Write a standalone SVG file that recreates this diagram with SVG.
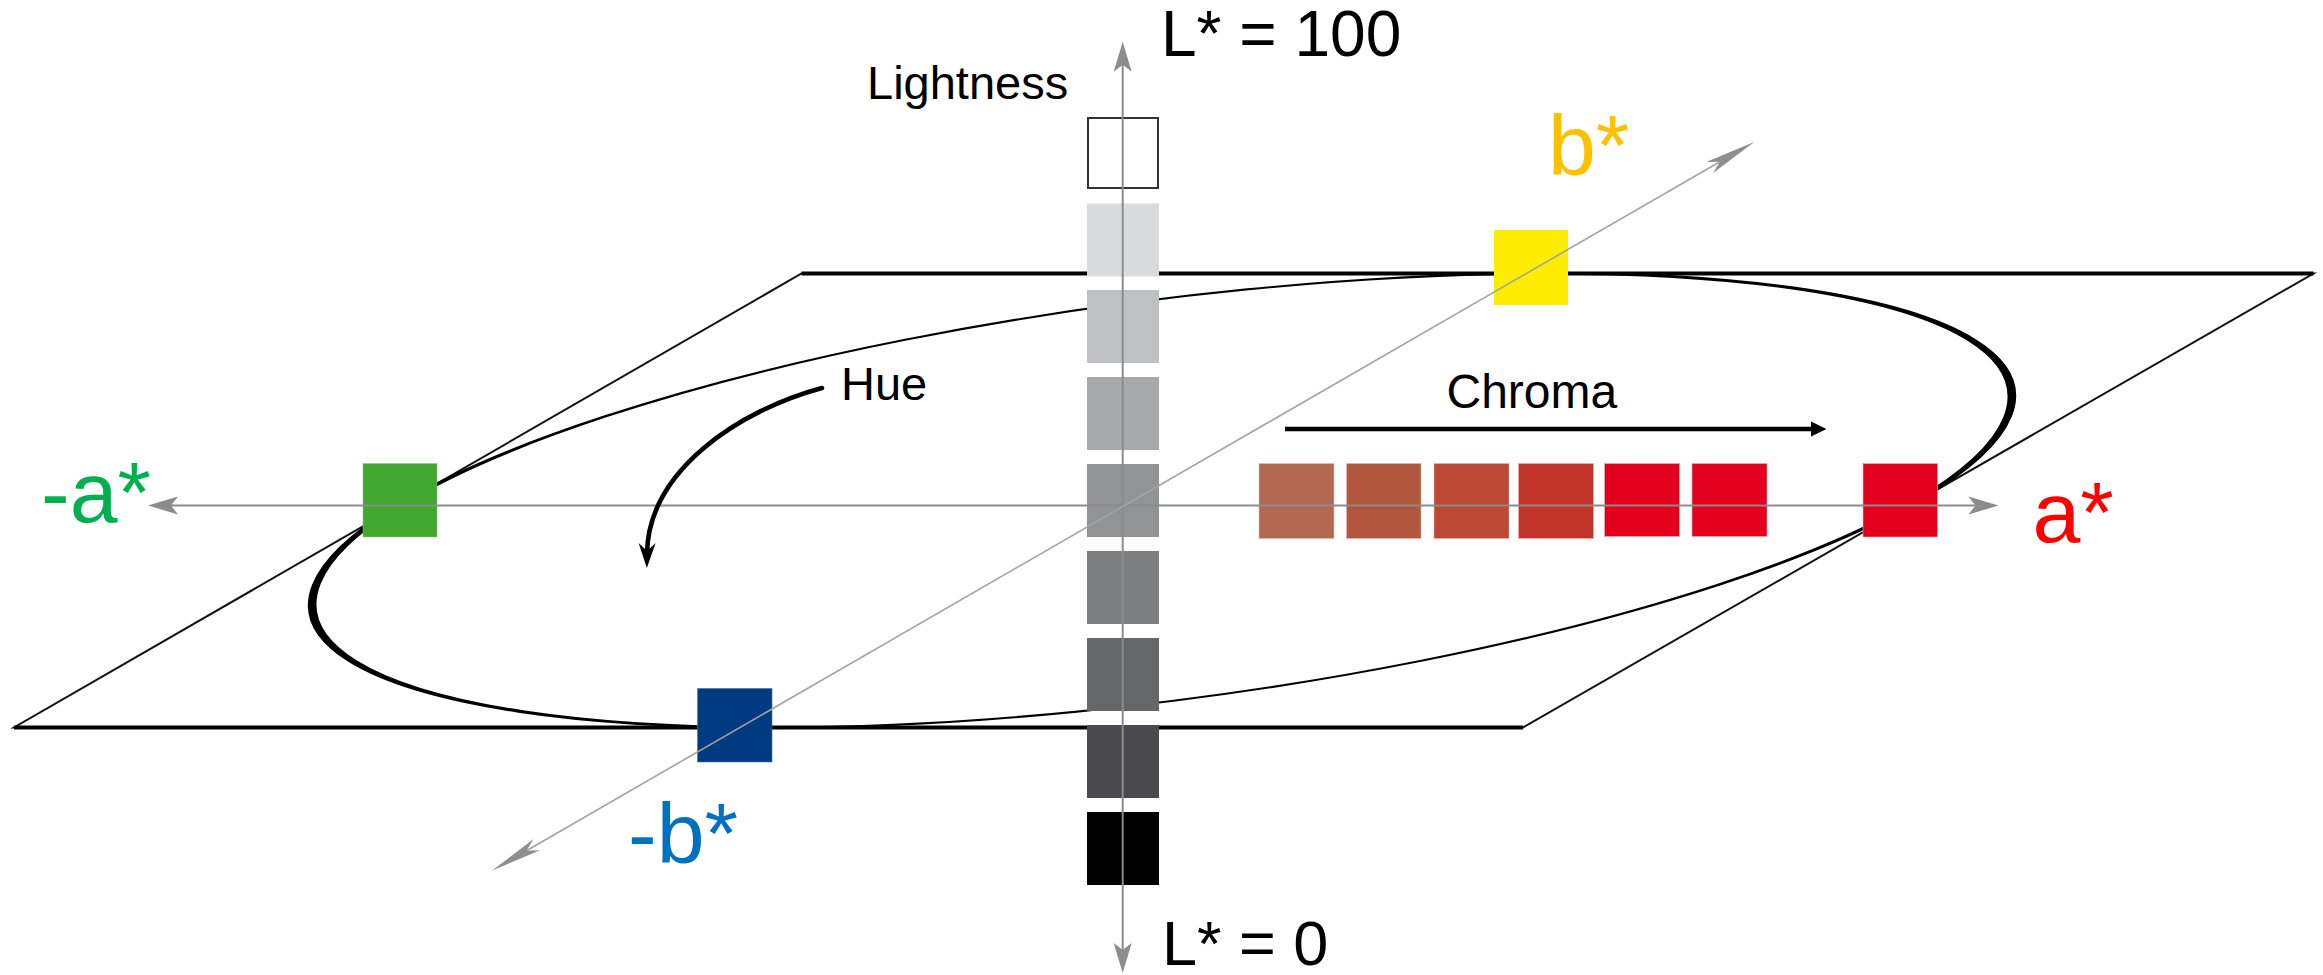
<svg xmlns="http://www.w3.org/2000/svg" width="2323" height="975" viewBox="0 0 2323 975">
<defs>
<style>
.lbl{font-family:"Liberation Sans",Arial,sans-serif;}
.plane-thick{stroke:#000;stroke-width:4;fill:none;}
.plane-thin{stroke:#111;stroke-width:2;fill:none;}
.axis{stroke:#8c8c8c;stroke-width:2;fill:none;}
.baxis{stroke:#a3a3a3;stroke-width:1.6;fill:none;}
.cbox{stroke:#f0b0b0;stroke-opacity:0.6;stroke-width:1;}
</style>
<marker id="axArrow" viewBox="-32 -10 34 20" refX="-22" refY="0" markerWidth="34" markerHeight="20" markerUnits="userSpaceOnUse" orient="auto-start-reverse">
<path d="M0,0 L-30,-9 L-23,0 L-30,9 Z" fill="#8c8c8c"/>
</marker>
<marker id="bArrow" viewBox="-54 -8 56 16" refX="-36" refY="0" markerWidth="56" markerHeight="16" markerUnits="userSpaceOnUse" orient="auto-start-reverse">
<path d="M0,0 L-52,-6.5 L-40,0 L-52,6.5 Z" fill="#8f8f8f"/>
</marker>
<marker id="hueArrow" viewBox="-27 -10 29 20" refX="-14" refY="0" markerWidth="29" markerHeight="20" markerUnits="userSpaceOnUse" orient="auto">
<path d="M0,0 L-25,-8.5 L-17,0 L-25,8.5 Z" fill="#000"/>
</marker>
</defs>
<rect width="2323" height="975" fill="#fff"/>

<g id="plane">
<polygon class="plane-thin" points="801.5,273.5 2313.5,273.5 1523,727.5 14,727.5"/>
<line class="plane-thick" x1="801.5" y1="273.5" x2="2313.5" y2="273.5"/>
<line class="plane-thick" x1="14" y1="727.5" x2="1523" y2="727.5"/>
</g>

<g id="hue-ellipse">
<circle cx="0" cy="0" r="1" fill="none" stroke="#000" stroke-width="0.0102" transform="matrix(755,0,390,-227,1162,500.5)"/>
</g>

<g id="lightness-scale">
<rect x="1088" y="118" width="70" height="70" fill="#fff" stroke="#333" stroke-width="2"/>
<rect x="1087" y="203.5" width="72" height="73" fill="#d9dadb"/>
<rect x="1087" y="290" width="72" height="73" fill="#bfc0c2"/>
<rect x="1087" y="377" width="72" height="73" fill="#a7a8aa"/>
<rect x="1087" y="464" width="72" height="73" fill="#929395"/>
<rect x="1087" y="551" width="72" height="73" fill="#7d7e80"/>
<rect x="1087" y="638" width="72" height="73" fill="#656668"/>
<rect x="1087" y="725" width="72" height="73" fill="#4a4a4c"/>
<rect x="1087" y="812" width="72" height="73" fill="#000"/>
</g>

<g id="chroma-scale">
<rect class="cbox" x="1259" y="463.5" width="75" height="75" fill="#b26850"/>
<rect class="cbox" x="1346.5" y="463.5" width="74.5" height="75" fill="#b1573d"/>
<rect class="cbox" x="1434" y="463.5" width="75" height="75" fill="#bb4934"/>
<rect class="cbox" x="1518.5" y="463.5" width="75" height="75" fill="#c2332a"/>
<rect class="cbox" x="1604.5" y="463.5" width="75" height="73" fill="#e2001e"/>
<rect class="cbox" x="1692" y="463.5" width="75" height="73" fill="#e2001e"/>
</g>

<g id="box-red">
<rect class="cbox" x="1863" y="463.5" width="74.5" height="73.5" fill="#e2001e"/>
</g>
<g id="box-green">
<rect x="363" y="463.5" width="74" height="73.5" fill="#43a62f" stroke="#7fcf6f" stroke-opacity="0.5" stroke-width="1"/>
</g>
<g id="box-blue">
<rect x="697.5" y="688.5" width="74.5" height="73.5" fill="#003a80" stroke="#5070a0" stroke-opacity="0.6" stroke-width="1"/>
</g>
<g id="box-yellow">
<rect x="1494" y="230" width="74" height="75" fill="#ffed00"/>
</g>

<g id="connectors">
<line class="axis" x1="1122.7" y1="63.7" x2="1122.7" y2="951" marker-start="url(#axArrow)" marker-end="url(#axArrow)"/>
<line class="axis" x1="170" y1="505.5" x2="1976.5" y2="505.5" marker-start="url(#axArrow)" marker-end="url(#axArrow)"/>
<line class="baxis" x1="523" y1="852.7" x2="1723.4" y2="159.7" marker-start="url(#bArrow)" marker-end="url(#bArrow)"/>
<line x1="1285" y1="429" x2="1812" y2="429" stroke="#000" stroke-width="4.5"/>
<polygon points="1811,421.5 1826.5,429 1811,436.5" fill="#000"/>
<path d="M822,388 C740,410 648,470 647,554" fill="none" stroke="#000" stroke-width="4.6" stroke-linecap="round" marker-end="url(#hueArrow)"/>
</g>

<g id="labels">
<text class="lbl" x="1161" y="56" font-size="64" fill="#000">L* = 100</text>
<text class="lbl" x="1162" y="965" font-size="63" fill="#000">L* = 0</text>
<text class="lbl" x="867" y="99" font-size="47" fill="#000">Lightness</text>
<text class="lbl" x="841" y="400" font-size="47" fill="#000">Hue</text>
<text class="lbl" x="1446.5" y="408" font-size="48" fill="#000">Chroma</text>
<text class="lbl" x="1548" y="175" font-size="86" fill="#ffc000">b*</text>
<text class="lbl" x="628" y="863" font-size="86" fill="#0070c0">-b*</text>
<text class="lbl" x="2032.5" y="541.7" font-size="86" fill="#ff0000">a*</text>
<text class="lbl" x="41" y="521.7" font-size="86" fill="#00b050">-a*</text>
</g>
</svg>
